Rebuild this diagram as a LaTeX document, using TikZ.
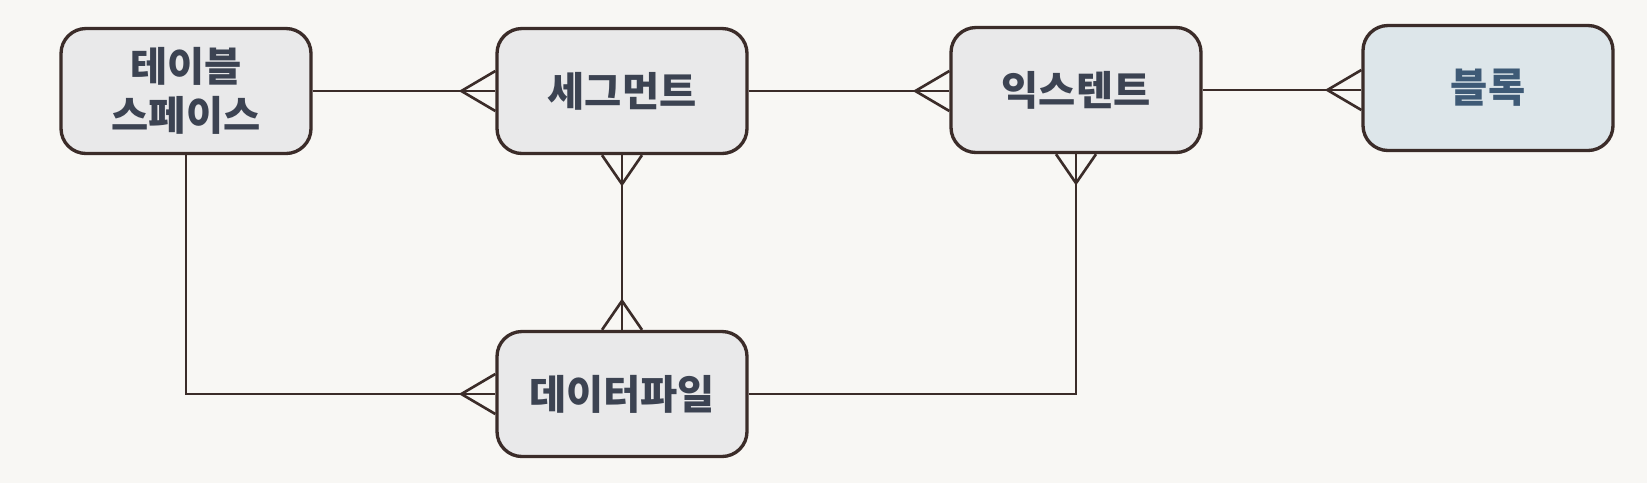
\documentclass[tikz,border=0pt]{standalone}
\usepackage{fontspec}
\setmainfont{Noto Sans CJK KR}
\usetikzlibrary{calc}

\definecolor{paper}{HTML}{F8F7F4}
\definecolor{edgecol}{HTML}{3B2C29}
\definecolor{boxfill}{HTML}{E9E9EA}
\definecolor{blkfill}{HTML}{DDE6EA}
\definecolor{txtcol}{HTML}{3C4352}
\definecolor{blktxt}{HTML}{3E5A76}

\tikzset{
  entity/.style={draw=edgecol, line width=1.9pt, rounded corners=0.5cm, fill=boxfill,
    minimum width=5cm, minimum height=2.5cm, inner sep=0pt, align=center,
    text=txtcol, font=\fontsize{23}{28}\selectfont\bfseries},
  link/.style={draw=edgecol, line width=1.5pt}
}

\begin{document}
\begin{tikzpicture}
\useasboundingbox[fill=paper] (0,0) rectangle (32.94,-9.66);

\node [entity] (tbs) at (3.72,-1.82) {테이블\\스페이스};
\node [entity] (seg) at (12.44,-1.82) {세그먼트};
\node [entity] (ext) at (21.52,-1.8) {익스텐트};
\node [entity, fill=blkfill, text=blktxt] (blk) at (29.76,-1.76) {블록};
\node [entity] (dtf) at (12.44,-7.88) {데이터파일};

% relationships
\draw [link] (tbs.east) -- (seg.west);
\draw [link] (seg.east) -- (seg.east -| ext.west);
\draw [link] (ext.east) -- (ext.east -| blk.west);
\draw [link] (seg.south) -- (dtf.north);
\draw [link] (tbs.south) |- (dtf.west);
\draw [link] (dtf.east) -| (ext.south);

% crow's feet
\coordinate (segin) at (seg.east -| ext.west);
\coordinate (blkin) at (ext.east -| blk.west);
\draw [link] ($(seg.west)+(0,0.4)$) -- ($(seg.west)+(-0.68,0)$) -- ($(seg.west)+(0,-0.4)$);
\draw [link] ($(segin)+(0,0.4)$) -- ($(segin)+(-0.68,0)$) -- ($(segin)+(0,-0.4)$);
\draw [link] ($(blkin)+(0,0.4)$) -- ($(blkin)+(-0.68,0)$) -- ($(blkin)+(0,-0.4)$);
\draw [link] ($(dtf.west)+(0,0.4)$) -- ($(dtf.west)+(-0.68,0)$) -- ($(dtf.west)+(0,-0.4)$);
\draw [link] ($(seg.south)+(-0.4,0)$) -- ($(seg.south)+(0,-0.58)$) -- ($(seg.south)+(0.4,0)$);
\draw [link] ($(dtf.north)+(-0.4,0)$) -- ($(dtf.north)+(0,0.58)$) -- ($(dtf.north)+(0.4,0)$);
\draw [link] ($(ext.south)+(-0.4,0)$) -- ($(ext.south)+(0,-0.58)$) -- ($(ext.south)+(0.4,0)$);

\end{tikzpicture}
\end{document}
